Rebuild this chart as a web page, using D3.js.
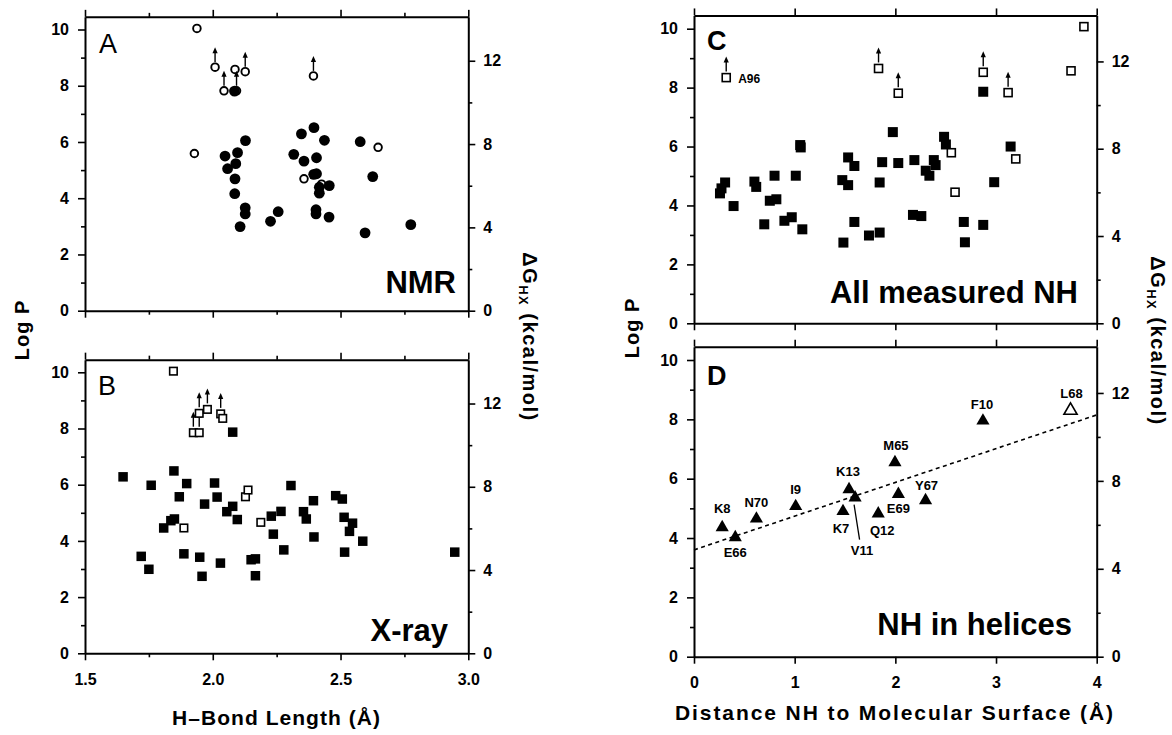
<!DOCTYPE html>
<html>
<head>
<meta charset="utf-8">
<script src="https://cdn.jsdelivr.net/npm/d3@7"></script>
<style>
body { margin: 0; background: #fff; }
svg { display: block; font-family: "Liberation Sans", Arial, sans-serif; }
.axis path, .axis line { stroke: #000; }
.axis path { stroke-width: 2; }
.axis line { stroke-width: 1.6; }
.axis text { font-size: 16px; font-weight: bold; fill: #000; font-family: "Liberation Sans", Arial, sans-serif; }
</style>
</head>
<body>
<script>
// ---- data ----
// A: NMR, H-bond length vs log P
var aFilledX = [2.085,2.048,2.058,2.090,2.097,2.128,2.087,2.086,2.127,2.127,2.107,2.226,2.256,2.317,2.347,2.357,2.396,2.406,2.437,2.395,2.406,2.417,2.417,2.456,2.404,2.404,2.455,2.577,2.626,2.596,2.775];
var aFilledY = [7.81,5.50,5.05,5.23,5.62,6.05,4.69,4.16,3.66,3.44,2.99,3.18,3.52,5.56,6.29,5.32,6.51,5.44,6.06,4.85,4.87,4.39,4.18,4.45,3.59,3.44,3.33,6.01,4.77,2.77,3.06];
var aOpenX = [1.938,2.009,2.044,2.093,2.087,2.127,2.394,1.928,2.357,2.647,2.426];
var aOpenY = [10.04,8.66,7.82,7.82,8.58,8.50,8.35,5.59,4.69,5.81,4.50];
var aOpenArrow = [false,true,true,true,false,true,true,false,false,false,false];

// B: X-ray
var bFilledX = [1.649,1.720,1.750,1.759,1.808,1.836,1.850,1.848,1.869,1.898,1.887,1.949,1.958,1.968,2.007,2.017,2.030,2.055,2.078,2.096,2.078,2.150,2.167,2.167,2.229,2.237,2.267,2.278,2.306,2.355,2.366,2.394,2.396,2.481,2.507,2.514,2.547,2.535,2.516,2.587,2.947];
var bFilledY = [6.28,3.45,2.99,5.98,4.46,4.72,4.78,6.49,5.57,6.04,3.54,3.42,2.74,5.31,6.06,5.56,3.21,5.04,5.23,4.76,7.87,3.33,3.36,2.76,4.88,4.24,5.05,3.68,5.97,5.04,4.78,5.43,4.14,5.61,5.49,4.84,4.63,4.34,3.60,3.99,3.60];
var bOpenX = [1.846,1.924,1.947,1.947,1.979,2.031,2.039,1.887,2.128,2.138,2.188];
var bOpenY = [10.04,7.85,7.85,8.54,8.68,8.52,8.36,4.46,5.57,5.81,4.66];
var bOpenArrow = [false,true,true,true,true,true,false,false,false,false,false];

// C: all measured NH, distance to surface vs log P
var cFilledX = [0.258,0.273,0.309,0.393,0.600,0.618,0.698,0.800,0.753,0.818,0.898,0.971,1.011,1.055,1.060,1.076,1.473,1.531,1.531,1.593,1.593,1.484,1.738,1.844,1.844,1.869,1.975,2.029,2.189,2.175,2.258,2.302,2.338,2.382,2.400,2.484,2.502,2.680,2.691,2.873,2.873,2.982,3.145];
var cFilledY = [4.41,4.58,4.78,3.98,4.81,4.63,3.36,5.01,4.16,4.21,3.48,3.60,5.01,6.05,5.97,3.19,4.86,4.69,5.63,5.34,3.44,2.74,2.98,3.08,4.78,5.47,6.49,5.44,5.54,3.68,3.64,5.18,5.01,5.54,5.37,6.33,6.07,3.44,2.75,7.86,3.34,4.79,6.00];
var cOpenX = [0.320,1.833,2.029,2.873,3.120,3.745,3.873,2.556,2.593,3.196];
var cOpenY = [8.34,8.65,7.81,8.52,7.83,8.57,10.07,5.79,4.45,5.58];
var cOpenArrow = [true,true,true,true,true,false,false,false,false,false];
var cOpenNames = ["A96","","","","","","","","",""];

// D: NH in helices
var dX = [0.28,0.41,0.62,1.01,1.48,1.54,1.60,1.83,1.996,2.03,2.30,2.87,3.74];
var dY = [4.36,4.02,4.65,5.07,4.90,5.64,5.36,4.82,6.55,5.48,5.27,7.95,8.30];
var dNames = ["K8","E66","N70","I9","K7","K13","V11","Q12","M65","E69","Y67","F10","L68"];
var dOpen = [false,false,false,false,false,false,false,false,false,false,false,false,true];
var fitX = [0, 4];
var fitY = [3.60, 8.15];

// tick values
var logTicks = [0,2,4,6,8,10];
var logMinor = [1,3,5,7,9];
var dgTicks = [0,4,8,12];
var dgMinor = [2,6,10];
var hbTicks = [1.5,2.0,2.5,3.0];
var hbMinor = [1.75,2.25,2.75];
var distTicks = [0,1,2,3,4];
var logMax = 10.45;
var dgPerLog = 1.35;

// label placement for panel D (pixels from the marker)
var dLabelOffsets = [[0,-14],[0,20],[0,-11.5],[0,-12.5],[-2,22],[-1,-13],[7,57],[4,21],[1,-12.5],[0,18.5],[1,-10],[-1,-12],[1,-12.5]];

var width = 1172, height = 735;
var svg = d3.select("body").append("svg")
    .attr("width", width)
    .attr("height", height);
svg.append("rect").attr("width", width).attr("height", height).attr("fill", "#fff");

function panel(p) {
    var x = d3.scaleLinear().domain(p.xDomain).range([p.x0, p.x1]);
    var y = d3.scaleLinear().domain([0, logMax]).range([p.y0, p.yTop]);
    var yR = d3.scaleLinear().domain([0, logMax * dgPerLog]).range([p.y0, p.yTop]);
    var g = svg.append("g");

    function ax(axis, tx, ty, minor) {
        var a = g.append("g").attr("class", "axis").attr("transform", "translate(" + tx + "," + ty + ")").call(axis);
        if (minor) a.select(".domain").remove();
        return a;
    }
    ax(d3.axisBottom(x).tickValues(p.xTicks).tickSize(7).tickSizeOuter(0).tickPadding(13)
        .tickFormat(p.xLabels ? p.xFormat : ""), 0, p.y0);
    ax(d3.axisTop(x).tickValues(p.xTicks).tickSize(7).tickSizeOuter(0).tickFormat(""), 0, p.yTop);
    if (p.xMinor) {
        ax(d3.axisBottom(x).tickValues(p.xMinor).tickSize(4).tickFormat(""), 0, p.y0, true);
        ax(d3.axisTop(x).tickValues(p.xMinor).tickSize(4).tickFormat(""), 0, p.yTop, true);
    }
    ax(d3.axisLeft(y).tickValues(logTicks).tickSize(7).tickSizeOuter(0).tickPadding(9).tickFormat(d3.format("d")), p.x0, 0);
    ax(d3.axisLeft(y).tickValues(logMinor).tickSize(4).tickFormat(""), p.x0, 0, true);
    ax(d3.axisRight(yR).tickValues(dgTicks).tickSize(7).tickSizeOuter(0).tickPadding(8).tickFormat(d3.format("d")), p.x1, 0);
    ax(d3.axisRight(yR).tickValues(dgMinor).tickSize(4).tickFormat(""), p.x1, 0, true);

    // panel letter and title
    g.append("text").attr("x", p.letterX).attr("y", p.letterY)
        .attr("font-size", 27).attr("font-weight", p.letterBold ? "bold" : "normal")
        .text(p.letter);
    g.append("text").attr("x", p.titleX).attr("y", p.titleY)
        .attr("text-anchor", "end").attr("font-size", 31).attr("font-weight", "bold")
        .text(p.title);
    return {x: x, y: y, g: g};
}

function drawArrows(g, pts) {
    var a = g.append("g");
    a.selectAll("line").data(pts).enter().append("line")
        .attr("x1", d => d[0]).attr("x2", d => d[0])
        .attr("y1", d => d[1] - 5).attr("y2", d => d[1] - 15)
        .attr("stroke", "#000").attr("stroke-width", 1.4);
    a.selectAll("path").data(pts).enter().append("path")
        .attr("d", d => "M" + (d[0] - 2.6) + "," + (d[1] - 14) + "L" + (d[0] + 2.6) + "," + (d[1] - 14) + "L" + d[0] + "," + (d[1] - 20) + "Z")
        .attr("fill", "#000");
}

function circles(g, xs, ys, sx, sy, open) {
    g.append("g").selectAll("circle").data(xs).enter().append("circle")
        .attr("cx", (d) => sx(d))
        .attr("cy", (d, i) => sy(ys[i]))
        .attr("r", open ? 3.8 : 5.4)
        .attr("fill", open ? "#fff" : "#000")
        .attr("stroke", "#000")
        .attr("stroke-width", open ? 1.9 : 0);
}

function squares(g, xs, ys, sx, sy, open, s) {
    g.append("g").selectAll("rect").data(xs).enter().append("rect")
        .attr("x", (d) => sx(d) - s / 2)
        .attr("y", (d, i) => sy(ys[i]) - s / 2)
        .attr("width", s).attr("height", s)
        .attr("fill", open ? "#fff" : "#000")
        .attr("stroke", "#000")
        .attr("stroke-width", open ? 1.6 : 0);
}

var hbFmt = d3.format(".1f");

// ---- A ----
var A = panel({xDomain: [1.5, 3.0], x0: 85, x1: 468.3, y0: 310.7, yTop: 310.7 - logMax * 28.12,
    xTicks: hbTicks, xMinor: hbMinor, xLabels: false, xFormat: hbFmt,
    letter: "A", letterX: 99, letterY: 53, letterBold: false,
    title: "NMR", titleX: 456, titleY: 293});
circles(A.g, aOpenX, aOpenY, A.x, A.y, true);
circles(A.g, aFilledX, aFilledY, A.x, A.y, false);
drawArrows(A.g, aOpenX.map((d, i) => [A.x(d), A.y(aOpenY[i])]).filter((d, i) => aOpenArrow[i]));

// ---- B ----
var B = panel({xDomain: [1.5, 3.0], x0: 85, x1: 468.3, y0: 653.3, yTop: 653.3 - logMax * 28.1,
    xTicks: hbTicks, xMinor: hbMinor, xLabels: true, xFormat: hbFmt,
    letter: "B", letterX: 98, letterY: 395, letterBold: false,
    title: "X-ray", titleX: 448, titleY: 641});
squares(B.g, bFilledX, bFilledY, B.x, B.y, false, 9.5);
drawArrows(B.g, bOpenX.map((d, i) => [B.x(d), B.y(bOpenY[i]) - 1]).filter((d, i) => bOpenArrow[i]));
squares(B.g, bOpenX, bOpenY, B.x, B.y, true, 7.5);

// ---- C ----
var C = panel({xDomain: [0, 4], x0: 694, x1: 1096.7, y0: 323.3, yTop: 323.3 - logMax * 29.46,
    xTicks: distTicks, xMinor: null, xLabels: false, xFormat: d3.format("d"),
    letter: "C", letterX: 707, letterY: 50, letterBold: true,
    title: "All measured NH", titleX: 1078, titleY: 303});
squares(C.g, cFilledX, cFilledY, C.x, C.y, false, 10);
drawArrows(C.g, cOpenX.map((d, i) => [C.x(d), C.y(cOpenY[i]) - 1]).filter((d, i) => cOpenArrow[i]));
squares(C.g, cOpenX, cOpenY, C.x, C.y, true, 8);
C.g.append("g").selectAll("text").data(cOpenNames).enter().append("text")
    .attr("x", (d, i) => C.x(cOpenX[i]) + 12)
    .attr("y", (d, i) => C.y(cOpenY[i]) + 5)
    .attr("font-size", 12).attr("font-weight", "bold")
    .text(d => d);

// ---- D ----
var D = panel({xDomain: [0, 4], x0: 694, x1: 1096.7, y0: 656.7, yTop: 656.7 - logMax * 29.67,
    xTicks: distTicks, xMinor: null, xLabels: true, xFormat: d3.format("d"),
    letter: "D", letterX: 707, letterY: 385, letterBold: true,
    title: "NH in helices", titleX: 1072, titleY: 635});
D.g.append("path")
    .datum(fitX.map((d, i) => [d, fitY[i]]))
    .attr("d", d3.line().x(d => D.x(d[0])).y(d => D.y(d[1])))
    .attr("fill", "none").attr("stroke", "#000").attr("stroke-width", 1.6)
    .attr("stroke-dasharray", "4,3.5");
D.g.append("g").selectAll("path").data(dX).enter().append("path")
    .attr("transform", (d, i) => "translate(" + D.x(d) + "," + D.y(dY[i]) + ")")
    .attr("d", d3.symbol().type(d3.symbolTriangle).size(75))
    .attr("fill", (d, i) => dOpen[i] ? "#fff" : "#000")
    .attr("stroke", "#000")
    .attr("stroke-width", (d, i) => dOpen[i] ? 1.6 : 0);
D.g.append("g").selectAll("text").data(dNames).enter().append("text")
    .attr("x", (d, i) => D.x(dX[i]) + dLabelOffsets[i][0])
    .attr("y", (d, i) => D.y(dY[i]) + dLabelOffsets[i][1])
    .attr("text-anchor", "middle")
    .attr("font-size", 13).attr("font-weight", "bold")
    .text(d => d);
// leader line for V11
var v = dNames.indexOf("V11");
D.g.append("line")
    .attr("x1", D.x(dX[v]) - 1).attr("y1", D.y(dY[v]) + 7)
    .attr("x2", D.x(dX[v]) + 4.5).attr("y2", D.y(dY[v]) + 42)
    .attr("stroke", "#000").attr("stroke-width", 1.3);

// ---- axis titles ----
function logLabel(cx, cy) {
    svg.append("text")
        .attr("transform", "translate(" + cx + "," + cy + ") rotate(-90)")
        .attr("text-anchor", "middle").attr("dy", "0.35em")
        .attr("font-size", 20).attr("font-weight", "bold").attr("letter-spacing", 1)
        .text("Log P");
}
function dgLabel(cx, cy) {
    var t = svg.append("text")
        .attr("transform", "translate(" + cx + "," + cy + ") rotate(90)")
        .attr("text-anchor", "middle").attr("dy", "0.35em")
        .attr("font-size", 20).attr("font-weight", "bold").attr("letter-spacing", 1.5);
    t.append("tspan").text("\u0394G");
    t.append("tspan").attr("font-size", 13).attr("dy", 4).text("HX");
    t.append("tspan").attr("dy", -4).text(" (kcal/mol)");
}
logLabel(22, 330);
logLabel(632, 328);
dgLabel(530, 337);
dgLabel(1158, 341);

svg.append("text").attr("x", 276).attr("y", 725)
    .attr("text-anchor", "middle").attr("font-size", 21).attr("font-weight", "bold")
    .attr("textLength", 208).attr("lengthAdjust", "spacing")
    .text("H\u2013Bond  Length  (\u00c5)");
svg.append("text").attr("x", 894).attr("y", 720)
    .attr("text-anchor", "middle").attr("font-size", 21).attr("font-weight", "bold")
    .attr("textLength", 438).attr("lengthAdjust", "spacing")
    .text("Distance NH to Molecular Surface (\u00c5)");
</script>
</body>
</html>
